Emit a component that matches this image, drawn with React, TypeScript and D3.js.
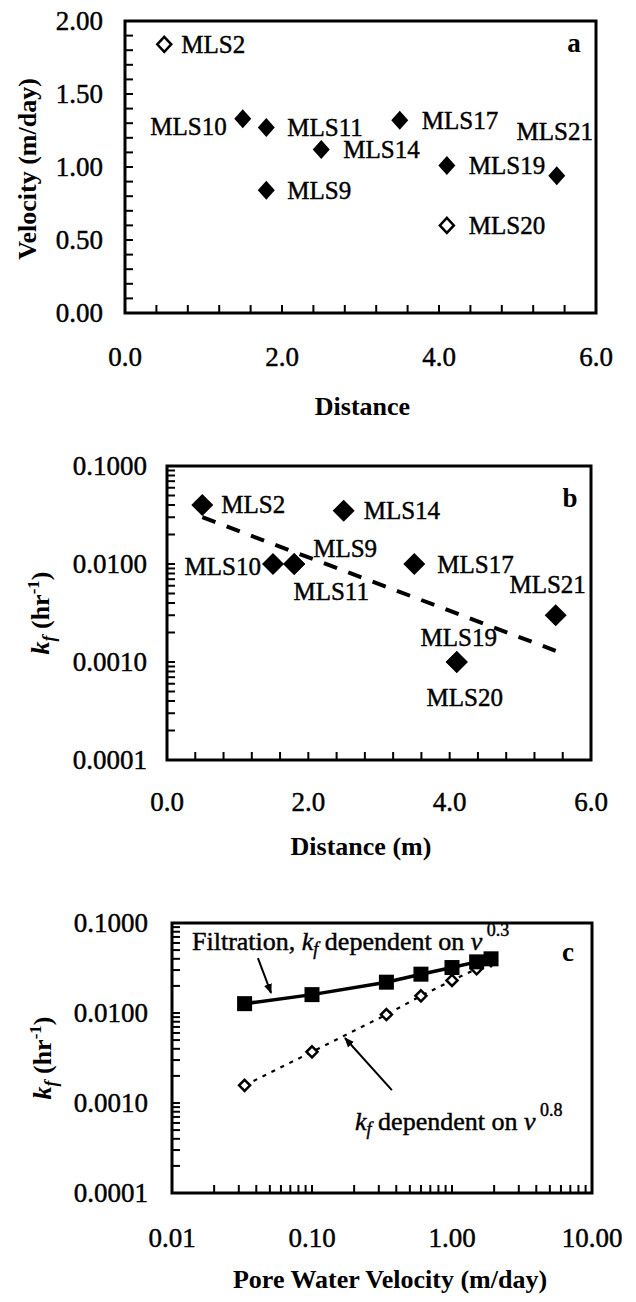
import React from "react";
import * as d3 from "d3";

// ---------- data ----------
const wellsA = ["MLS2", "MLS10", "MLS11", "MLS9", "MLS14", "MLS17", "MLS19", "MLS20", "MLS21"];
const distanceA = [0.5, 1.5, 1.8, 1.8, 2.5, 3.5, 4.1, 4.1, 5.5];
const velocityA = [1.84, 1.33, 1.27, 0.84, 1.12, 1.32, 1.01, 0.6, 0.94];
const openA = [true, false, false, false, false, false, false, true, false];

const wellsB = ["MLS2", "MLS10", "MLS9", "MLS11", "MLS14", "MLS17", "MLS19", "MLS20", "MLS21"];
const distanceB = [0.5, 1.5, 1.8, 1.8, 2.5, 3.5, 4.1, 4.1, 5.5];
const kfB = [0.04, 0.01, 0.01, 0.01, 0.035, 0.01, 0.001, 0.001, 0.003];
const fitDistanceB = [0.5, 5.5];
const fitKfB = [0.03, 0.0013];

const velocityC = [0.033, 0.1, 0.34, 0.6, 1.0, 1.5, 1.9];
const kfFiltrationC = [0.0127, 0.016, 0.022, 0.027, 0.032, 0.037, 0.04];
const kfDependentC = [0.00157, 0.0037, 0.0096, 0.0155, 0.023, 0.031, 0.038];

const yTicksA = [0, 0.5, 1.0, 1.5, 2.0];
const xTicksDistance = [0, 2, 4, 6];
const yTicksLog = [0.0001, 0.001, 0.01, 0.1];
const xTicksLogC = [0.01, 0.1, 1, 10];

// ---------- layout ----------
const FONT = "'Liberation Serif', 'DejaVu Serif', serif";
const TICK_FS = 27;
const LBL_FS = 25;
const ANN_FS = 26;
const TITLE_FS = 26;

type LP = { dx: number; dy: number; anchor: "start" | "end" | "middle" };
const labelPosA: Record<string, LP> = {
  MLS2: { dx: 17, dy: 0, anchor: "start" },
  MLS10: { dx: -16, dy: 8, anchor: "end" },
  MLS11: { dx: 21, dy: 0, anchor: "start" },
  MLS9: { dx: 21, dy: 0, anchor: "start" },
  MLS14: { dx: 22, dy: 0, anchor: "start" },
  MLS17: { dx: 22, dy: 0, anchor: "start" },
  MLS19: { dx: 22, dy: 0, anchor: "start" },
  MLS20: { dx: 22, dy: 0, anchor: "start" },
  MLS21: { dx: -2, dy: -44, anchor: "middle" },
};
const labelPosB: Record<string, LP> = {
  MLS2: { dx: 19, dy: 0, anchor: "start" },
  MLS10: { dx: -12, dy: 2, anchor: "end" },
  MLS9: { dx: 19, dy: -16, anchor: "start" },
  MLS11: { dx: 37, dy: 27, anchor: "middle" },
  MLS14: { dx: 20, dy: 0, anchor: "start" },
  MLS17: { dx: 23, dy: 0, anchor: "start" },
  MLS19: { dx: 2, dy: -25, anchor: "middle" },
  MLS20: { dx: 8, dy: 35, anchor: "middle" },
  MLS21: { dx: -8, dy: -31, anchor: "middle" },
};

const xA = d3.scaleLinear().domain([0, 6]).range([125, 596]);
const yA = d3.scaleLinear().domain([0, 2]).range([313, 21]);
const xB = d3.scaleLinear().domain([0, 6]).range([167, 591]);
const yB = d3.scaleLog().domain([0.0001, 0.1]).range([760, 466]);
const xC = d3.scaleLog().domain([0.01, 10]).range([172, 592]);
const yC = d3.scaleLog().domain([0.0001, 0.1]).range([1193, 923]);

const diamond = (w: number, h: number) => `M0,${-h}L${w},0L0,${h}L${-w},0Z`;

function logMinor(lo: number, hi: number) {
  const out: number[] = [];
  for (let d = lo; d < hi * 0.999; d *= 10) {
    for (let k = 1; k <= 9; k++) out.push(d * k);
  }
  out.push(hi);
  return out;
}

const TL = 8; // tick length
// heavier "printed" look for regular-weight text
const R = { fontFamily: FONT, stroke: "#000", strokeWidth: 0.45 } as React.CSSProperties;
const B = { fontFamily: FONT, fontWeight: "bold" } as React.CSSProperties;

function Frame({ x0, x1, y0, y1 }: { x0: number; x1: number; y0: number; y1: number }) {
  return <rect x={x0} y={y0} width={x1 - x0} height={y1 - y0} fill="none" stroke="#000" strokeWidth={3} />;
}

function KfTitle({ x, y }: { x: number; y: number }) {
  return (
    <text style={B} fontFamily={FONT} transform={`translate(${x},${y}) rotate(-90)`} textAnchor="middle" fontSize={TITLE_FS}>
      <tspan fontStyle="italic">k</tspan>
      <tspan fontStyle="italic" fontSize={18} dy={6}>f</tspan>
      <tspan dy={-6}> (hr</tspan>
      <tspan fontSize={17} dy={-10}>-1</tspan>
      <tspan dy={10}>)</tspan>
    </text>
  );
}

export default function App() {
  const aX0 = xA.range()[0], aX1 = xA.range()[1], aY0 = yA.range()[1], aY1 = yA.range()[0];
  const minorYA = d3.range(0, 21).map((i) => i / 10);
  const minorXA = d3.range(1, 15).map((i) => i * 0.4);

  const bX0 = xB.range()[0], bX1 = xB.range()[1], bY0 = yB.range()[1], bY1 = yB.range()[0];
  const minorXB = d3.range(1, 15).map((i) => i * 0.4);
  const fitLine = d3.line<number>().x((_, i) => xB(fitDistanceB[i])).y((d) => yB(d))(fitKfB) || "";

  const cX0 = xC.range()[0], cX1 = xC.range()[1], cY0 = yC.range()[1], cY1 = yC.range()[0];
  const lineFilt = d3.line<number>().x((_, i) => xC(velocityC[i])).y((d) => yC(d))(kfFiltrationC) || "";
  const lineDep = d3.line<number>().x((_, i) => xC(velocityC[i])).y((d) => yC(d))(kfDependentC) || "";

  const arrow1 = { x1: xC(0.0411), y1: yC(0.0408), x2: xC(0.051), y2: yC(0.0167) };
  const arrow2 = { x1: xC(0.372), y1: yC(0.00139), x2: xC(0.172), y2: yC(0.00527) };

  return (
    <svg
      width={636}
      height={1302}
      fontFamily={FONT}
      style={{ position: "absolute", left: 0, top: 0, background: "#fff", fontFamily: FONT }}
    >
      <defs>
        <marker id="ah" viewBox="0 0 10 10" refX="9" refY="5" markerWidth="5" markerHeight="5" orient="auto-start-reverse" markerUnits="strokeWidth">
          <path d="M0,1 L10,5 L0,9 Z" fill="#000" />
        </marker>
      </defs>
      <rect x={0} y={0} width={636} height={1302} fill="#fff" />

      {/* ================= PANEL A ================= */}
      <g>
        {minorYA.map((v, i) => (
          <line key={"ya" + i} x1={aX0} x2={aX0 + TL} y1={yA(v)} y2={yA(v)} stroke="#000" strokeWidth={2} />
        ))}
        {minorXA.map((v, i) => (
          <line key={"xa" + i} x1={xA(v)} x2={xA(v)} y1={aY1} y2={aY1 - TL} stroke="#000" strokeWidth={2} />
        ))}
        <Frame x0={aX0} x1={aX1} y0={aY0} y1={aY1} />
        {yTicksA.map((v) => (
          <text key={"yla" + v} style={R} fontFamily={FONT} x={103} y={yA(v) + TICK_FS * 0.34} textAnchor="end" fontSize={TICK_FS}>
            {d3.format(".2f")(v)}
          </text>
        ))}
        {xTicksDistance.map((v) => (
          <text key={"xla" + v} style={R} fontFamily={FONT} x={xA(v)} y={366} textAnchor="middle" fontSize={TICK_FS}>
            {d3.format(".1f")(v)}
          </text>
        ))}
        <text style={B} fontFamily={FONT} x={(aX0 + aX1) / 2 + 2} y={415} textAnchor="middle" fontSize={TITLE_FS}>
          Distance
        </text>
        <text
          style={B}
          fontFamily={FONT}
          transform={`translate(36,${(aY0 + aY1) / 2 + 2}) rotate(-90)`}
          textAnchor="middle"
          fontSize={TITLE_FS}
        >
          Velocity (m/day)
        </text>
        <text style={B} fontFamily={FONT} x={574} y={52} textAnchor="middle" fontSize={27}>a</text>
        {wellsA.map((w, i) => {
          const cx = xA(distanceA[i]);
          const cy = yA(velocityA[i]);
          const lp = labelPosA[w];
          return (
            <g key={"pa" + w}>
              {openA[i] ? (
                <path d={diamond(7, 7.5)} transform={`translate(${cx},${cy})`} fill="#fff" stroke="#000" strokeWidth={2.5} />
              ) : (
                <path d={diamond(8.5, 9.5)} transform={`translate(${cx},${cy})`} fill="#000" />
              )}
              <text style={R} fontFamily={FONT} x={cx + lp.dx} y={cy + lp.dy + LBL_FS * 0.34} textAnchor={lp.anchor} fontSize={LBL_FS}>
                {w}
              </text>
            </g>
          );
        })}
      </g>

      {/* ================= PANEL B ================= */}
      <g>
        {logMinor(0.0001, 0.1).map((v, i) => (
          <line key={"yb" + i} x1={bX0} x2={bX0 + TL} y1={yB(v)} y2={yB(v)} stroke="#000" strokeWidth={2} />
        ))}
        {minorXB.map((v, i) => (
          <line key={"xb" + i} x1={xB(v)} x2={xB(v)} y1={bY1} y2={bY1 - TL} stroke="#000" strokeWidth={2} />
        ))}
        <Frame x0={bX0} x1={bX1} y0={bY0} y1={bY1} />
        {yTicksLog.map((v) => (
          <text key={"ylb" + v} style={R} fontFamily={FONT} x={147} y={yB(v) + TICK_FS * 0.34} textAnchor="end" fontSize={TICK_FS}>
            {d3.format(".4f")(v)}
          </text>
        ))}
        {xTicksDistance.map((v) => (
          <text key={"xlb" + v} style={R} fontFamily={FONT} x={xB(v)} y={811} textAnchor="middle" fontSize={TICK_FS}>
            {d3.format(".1f")(v)}
          </text>
        ))}
        <text style={B} fontFamily={FONT} x={(bX0 + bX1) / 2 - 18} y={855} textAnchor="middle" fontSize={TITLE_FS}>
          Distance (m)
        </text>
        <KfTitle x={49} y={(bY0 + bY1) / 2} />
        <text style={B} fontFamily={FONT} x={570} y={507} textAnchor="middle" fontSize={27}>b</text>
        <path d={fitLine} fill="none" stroke="#000" strokeWidth={4} strokeDasharray="14 12" />
        {wellsB.map((w, i) => {
          const cx = xB(distanceB[i]);
          const cy = yB(kfB[i]);
          const lp = labelPosB[w];
          return (
            <g key={"pb" + w}>
              <path d={diamond(11, 11)} transform={`translate(${cx},${cy})`} fill="#000" />
              <text style={R} fontFamily={FONT} x={cx + lp.dx} y={cy + lp.dy + LBL_FS * 0.34} textAnchor={lp.anchor} fontSize={LBL_FS}>
                {w}
              </text>
            </g>
          );
        })}
      </g>

      {/* ================= PANEL C ================= */}
      <g>
        {logMinor(0.0001, 0.1).map((v, i) => (
          <line key={"yc" + i} x1={cX0} x2={cX0 + TL} y1={yC(v)} y2={yC(v)} stroke="#000" strokeWidth={2} />
        ))}
        {logMinor(0.01, 10).map((v, i) => (
          <line key={"xc" + i} x1={xC(v)} x2={xC(v)} y1={cY1} y2={cY1 - TL} stroke="#000" strokeWidth={2} />
        ))}
        <Frame x0={cX0} x1={cX1} y0={cY0} y1={cY1} />
        {yTicksLog.map((v) => (
          <text key={"ylc" + v} style={R} fontFamily={FONT} x={148} y={yC(v) + TICK_FS * 0.34} textAnchor="end" fontSize={TICK_FS}>
            {d3.format(".4f")(v)}
          </text>
        ))}
        {xTicksLogC.map((v) => (
          <text key={"xlc" + v} style={R} fontFamily={FONT} x={xC(v)} y={1247} textAnchor="middle" fontSize={TICK_FS}>
            {d3.format(".2f")(v)}
          </text>
        ))}
        <text style={B} fontFamily={FONT} x={(cX0 + cX1) / 2 + 8} y={1288} textAnchor="middle" fontSize={TITLE_FS}>
          Pore Water Velocity (m/day)
        </text>
        <KfTitle x={51} y={(cY0 + cY1) / 2} />
        <text style={B} fontFamily={FONT} x={568} y={961} textAnchor="middle" fontSize={27}>c</text>

        <path d={lineDep} fill="none" stroke="#000" strokeWidth={2.2} strokeDasharray="4 6" />
        <path d={lineFilt} fill="none" stroke="#000" strokeWidth={3.5} />
        {kfDependentC.map((k, i) => (
          <path
            key={"dc" + i}
            d={diamond(5.5, 5.5)}
            transform={`translate(${xC(velocityC[i])},${yC(k)})`}
            fill="#fff"
            stroke="#000"
            strokeWidth={2.5}
          />
        ))}
        {kfFiltrationC.map((k, i) => (
          <rect key={"sc" + i} x={xC(velocityC[i]) - 7.5} y={yC(k) - 7.5} width={15} height={15} fill="#000" />
        ))}

        <text style={R} fontFamily={FONT} x={xC(0.0139)} y={yC(0.05)} fontSize={ANN_FS}>
          <tspan>Filtration, </tspan>
          <tspan fontStyle="italic">k</tspan>
          <tspan fontStyle="italic" fontSize={18} dy={5}>f</tspan>
          <tspan dy={-5}> dependent on </tspan>
          <tspan fontStyle="italic">v</tspan>
          <tspan fontSize={18} dy={-14}> 0.3</tspan>
        </text>
        <text style={R} fontFamily={FONT} x={xC(0.203)} y={yC(0.0005)} fontSize={ANN_FS}>
          <tspan fontStyle="italic">k</tspan>
          <tspan fontStyle="italic" fontSize={18} dy={5}>f</tspan>
          <tspan dy={-5}> dependent on </tspan>
          <tspan fontStyle="italic">v</tspan>
          <tspan fontSize={18} dy={-14}> 0.8</tspan>
        </text>
        <line {...arrow1} stroke="#000" strokeWidth={2} markerEnd="url(#ah)" />
        <line {...arrow2} stroke="#000" strokeWidth={2} markerEnd="url(#ah)" />
      </g>
    </svg>
  );
}
